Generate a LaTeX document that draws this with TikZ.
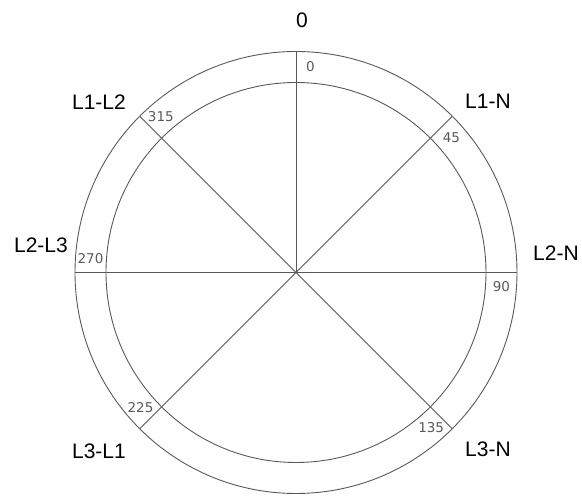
\documentclass[tikz,border=0pt]{standalone}
\usepackage{fontspec}
\setmainfont{Liberation Sans}
\newfontfamily\dialfont{DejaVu Sans}

\tikzset{
  dial/.style={draw=black!65, line width=0.9pt},
  phase/.style={font=\fontsize{21}{24}\selectfont, inner sep=0pt},
  degree/.style={font=\dialfont\fontsize{13.5}{15}\selectfont, text=black!65, inner sep=0pt}
}

\begin{document}
\begin{tikzpicture}[x=1pt,y=1pt]
  \useasboundingbox (-296,-229.5) rectangle (286,272.5);

  % Dial
  \coordinate (c) at (0,0);
  \draw[dial] (c) circle (221);
  \draw[dial] (c) circle (190);

  % Spokes and degree marks
  \foreach \a in {0,45,90,135,225,270,315}{
    \coordinate (s\a) at (90-\a:221);
    \draw[dial] (c) -- (s\a);
    \node[degree] (d\a) at (86-\a:206) {\a};
  }

  % Phase labels
  \node[phase] (top)  at (6,252)      {0};
  \node[phase] (l1n)  at (192,171.5)  {L1-N};
  \node[phase] (l2n)  at (260,19.5)   {L2-N};
  \node[phase] (l3n)  at (192,-176.5) {L3-N};
  \node[phase] (l3l1) at (-197,-178.5) {L3-L1};
  \node[phase] (l2l3) at (-255,27.5)  {L2-L3};
  \node[phase] (l1l2) at (-197,170.5) {L1-L2};
\end{tikzpicture}
\end{document}
